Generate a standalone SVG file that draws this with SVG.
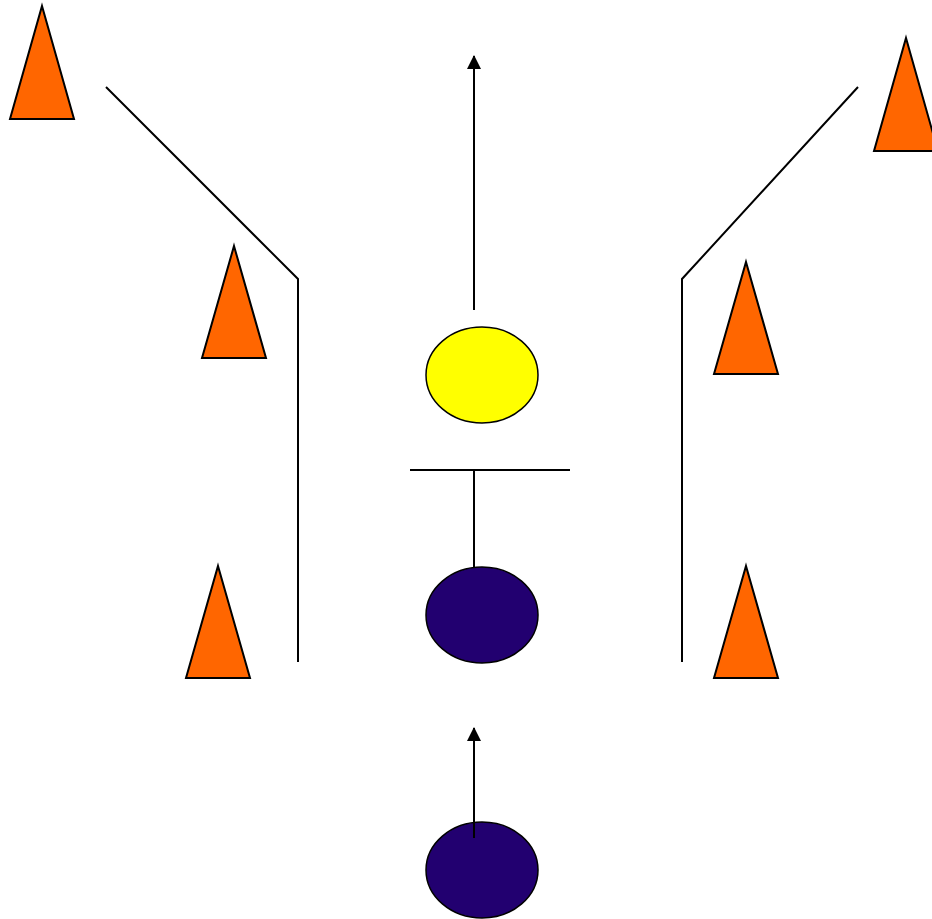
<svg xmlns="http://www.w3.org/2000/svg" width="932" height="919" viewBox="0 0 932 919">
  <style>
    .cone { fill: #FF6600; stroke: #000; stroke-width: 2; stroke-linejoin: miter; }
    .line { fill: none; stroke: #000; stroke-width: 2; }
    .ball { stroke: #000; stroke-width: 1.5; }
  </style>
  <defs>
    <marker id="arrow" viewBox="0 0 14 14" refX="13" refY="7" markerWidth="14" markerHeight="14" markerUnits="userSpaceOnUse" orient="auto">
      <path d="M0,0 L14,7 L0,14 Z" fill="#000"/>
    </marker>
  </defs>
  <rect width="932" height="919" fill="#fff"/>

  <!-- boundary lines and handoff bar -->
  <g id="connectors">
    <polyline class="line" points="106,87 298,279 298,662"/>
    <polyline class="line" points="858,87 682,279 682,662"/>
    <line class="line" x1="410" y1="470" x2="570" y2="470"/>
    <line class="line" x1="474" y1="470" x2="474" y2="567"/>
    <line class="line" x1="474" y1="310" x2="474" y2="56" marker-end="url(#arrow)"/>
    <line class="line" x1="474" y1="838" x2="474" y2="728" marker-end="url(#arrow)"/>
  </g>

  <!-- cones -->
  <g id="cone-top-left"><polygon class="cone" points="42,6 74,119 10,119"/></g>
  <g id="cone-left-upper"><polygon class="cone" points="234,246 266,358 202,358"/></g>
  <g id="cone-left-lower"><polygon class="cone" points="218,566 250,678 186,678"/></g>
  <g id="cone-right-upper"><polygon class="cone" points="746,262 778,374 714,374"/></g>
  <g id="cone-right-lower"><polygon class="cone" points="746,566 778,678 714,678"/></g>
  <g id="cone-top-right"><polygon class="cone" points="906,38 938,151 874,151"/></g>

  <!-- players -->
  <g id="ball-yellow"><ellipse class="ball" cx="482" cy="375" rx="56" ry="48" fill="#FFFF00"/></g>
  <g id="ball-mid"><ellipse class="ball" cx="482" cy="615" rx="56" ry="48" fill="#220070"/></g>
  <g id="ball-bottom"><ellipse class="ball" cx="482" cy="870" rx="56" ry="48" fill="#220070"/></g>

  <!-- arrow tail over the bottom player -->
  <line class="line" x1="474" y1="838" x2="474" y2="823"/>
</svg>
